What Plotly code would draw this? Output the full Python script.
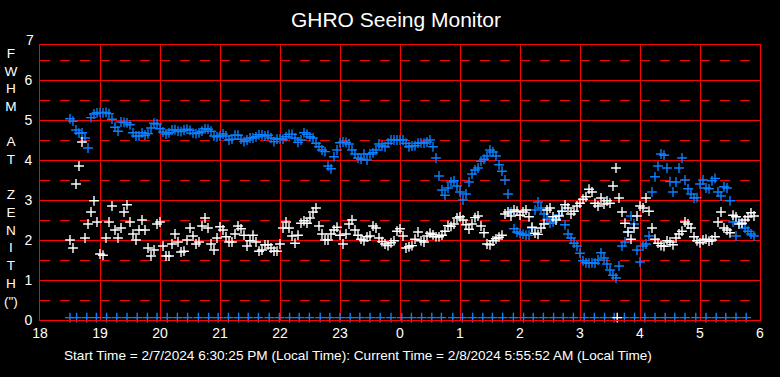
import plotly.graph_objects as go

# ---------------- data ----------------
t_start = 18.5   # first sample (hours, 18 = 6 PM)
t_step = 0.05    # sampling step in hours

blue_fwhm = [
    5.03, 4.97, 4.75, 4.67, 4.68, 4.55, 4.3, 5.06, 5.15, 5.18,
    5.19, 5.18, 5.19, 5.16, 5.02, 4.82, 4.72, 4.95, 4.94, 4.93, 4.88, 4.68, 4.6, 4.6, 4.68, 4.62, 4.66, 4.8, 4.92, 4.9,
    4.78, 4.7, 4.65, 4.68, 4.75, 4.76, 4.72, 4.71, 4.75, 4.77, 4.74, 4.67, 4.66, 4.68, 4.72, 4.78, 4.77, 4.72, 4.6, 4.58,
    4.6, 4.65, 4.6, 4.5, 4.52, 4.62, 4.62, 4.52, 4.46, 4.5, 4.55, 4.55, 4.58, 4.63, 4.63, 4.6, 4.62, 4.55, 4.46, 4.52,
    4.53, 4.52, 4.58, 4.64, 4.64, 4.55, 4.44, 4.5, 4.68, 4.64, 4.58, 4.55, 4.42, 4.33, 4.25, 4.21, 3.85, 3.78, 4.08, 4.25,
    4.43, 4.45, 4.44, 4.4, 4.25, 4.15, 4.05, 4.02, 4.15, 4.0, 4.15, 4.18, 4.25, 4.4, 4.35, 4.33, 4.42, 4.5, 4.5, 4.5,
    4.5, 4.5, 4.42, 4.33, 4.35, 4.36, 4.42, 4.43, 4.42, 4.45, 4.5, 4.33, 4.05, 3.6, 3.25, 3.12, 3.3, 3.45, 3.48, 3.35,
    3.2, 3.0, 3.15, 3.45, 3.65, 3.75, 3.8, 3.97, 4.02, 4.1, 4.25, 4.2, 4.1, 3.88, 3.72, 3.5, 3.15, 2.7, 2.28, 2.2,
    2.17, 2.14, 2.12, 2.12, 2.3, 2.75, 2.95, 2.8, 2.65, 2.52, 2.42, 2.45, 2.53, 2.62, 2.72, 2.38, 2.15, 2.05, 1.92, 1.85,
    1.67, 1.48, 1.43, 1.42, 1.43, 1.42, 1.5, 1.68, 1.55, 1.4, 1.25, 1.12, 1.05, 1.35, 1.85, 1.95, 2.2, 2.6, 2.4, 1.75,
    1.45, 1.85, 1.9, 2.1, 3.2, 3.58, 3.85, 4.15, 4.12, 3.8, 3.46, 3.2, 3.45, 3.8, 4.05, 3.5, 3.28, 3.15, 3.05, 3.06,
    3.4, 3.5, 3.3, 3.28, 3.48, 3.54, 3.2, 3.1, 3.33, 3.3, 2.98, 2.45, 2.1, 2.45, 2.4, 2.3, 2.22, 2.15, 2.1,
]

white_fwhm = [
    2.0, 1.8, 3.4, 3.85, 4.45, 2.05, 2.4, 2.7, 2.98, 2.45,
    1.65, 1.62, 2.05, 2.45, 2.85, 2.25, 2.05, 2.3, 2.7, 2.88, 2.45, 2.15, 2.0, 2.25, 2.5, 2.25, 1.8, 1.6, 1.75, 2.4,
    2.45, 1.85, 1.6, 1.6, 1.9, 2.15, 1.95, 1.7, 1.72, 2.0, 2.3, 2.1, 1.9, 1.95, 2.35, 2.55, 2.3, 1.9, 1.75, 2.05,
    2.33, 2.25, 2.08, 1.95, 1.95, 2.15, 2.35, 2.28, 2.12, 1.85, 1.98, 2.12, 1.95, 1.72, 1.75, 1.88, 1.88, 1.8, 1.72, 1.72,
    1.9, 2.3, 2.45, 2.3, 2.1, 1.92, 2.12, 2.42, 2.48, 2.42, 2.55, 2.7, 2.8, 2.35, 2.15, 2.0, 2.0, 2.15, 2.25, 2.32,
    2.12, 1.9, 2.15, 2.4, 2.5, 2.25, 2.12, 2.02, 1.98, 2.08, 2.1, 2.35, 2.3, 2.05, 1.96, 1.9, 1.86, 1.93, 1.98, 2.22,
    2.28, 2.1, 1.8, 1.83, 1.86, 2.02, 2.2, 1.98, 1.95, 2.1, 2.17, 2.13, 2.08, 2.08, 2.12, 2.22, 2.36, 2.34, 2.4, 2.55,
    2.58, 2.5, 2.38, 2.27, 2.4, 2.56, 2.6, 2.35, 2.18, 1.9, 1.88, 1.98, 2.03, 2.07, 2.12, 2.65, 2.7, 2.6, 2.75, 2.72,
    2.62, 2.7, 2.75, 2.58, 2.32, 2.17, 2.14, 2.3, 2.4, 2.75, 2.8, 2.58, 2.5, 2.6, 2.72, 2.88, 2.8, 2.65, 2.72, 2.85,
    2.92, 3.02, 3.08, 3.27, 3.2, 2.92, 2.85, 3.05, 2.9, 2.98, 2.92, 3.35, 3.8, 3.05, 2.7, 2.42, 2.2, 2.02, 2.3, 2.6,
    2.85, 2.8, 3.05, 2.72, 2.3, 2.02, 1.92, 1.86, 1.84, 1.98, 1.95, 1.88, 2.05, 2.15, 2.22, 2.45, 2.4, 2.3, 2.08, 1.98,
    1.93, 2.0, 2.02, 1.97, 2.0, 2.08, 2.45, 2.7, 2.3, 2.25, 2.18, 2.62, 2.58, 2.4, 2.42, 2.5, 2.58, 2.68, 2.6,
]

# status markers along the bottom of the chart
status_blue_x = [
    18.5, 18.61, 18.78, 18.94, 19.11, 19.28, 19.45, 19.62, 19.79, 19.95,
    20.12, 20.29, 20.46, 20.64, 20.81, 20.97, 21.14, 21.31, 21.47, 21.64, 21.82, 21.99,
    22.16, 22.32, 22.49, 22.67, 22.83, 23.0, 23.17, 23.33, 23.5, 23.67, 23.85,
    24.03, 24.19, 24.36, 24.53, 24.69, 24.88, 25.04, 25.21, 25.38, 25.54, 25.71, 25.89,
    26.06, 26.22, 26.39, 26.56, 26.72, 26.89, 27.07, 27.24, 27.41, 27.57, 27.74, 27.91,
    28.08, 28.25, 28.42, 28.58, 28.75, 28.93, 29.1, 29.27, 29.43, 29.6, 29.77,
]
status_blue_y = [0.06] * len(status_blue_x)
status_white_x = [27.62]
status_white_y = [0.06]

hour_ticks = [18, 19, 20, 21, 22, 23, 24, 25, 26, 27, 28, 29, 30]
hour_labels = ["18", "19", "20", "21", "22", "23", "0", "1", "2", "3", "4", "5", "6"]
y_ticks = [0, 1, 2, 3, 4, 5, 6]
y_half_ticks = [0.5, 1.5, 2.5, 3.5, 4.5, 5.5, 6.5]

title_text = "GHRO Seeing Monitor"
y_title_letters = ["F", "W", "H", "M", "", "A", "T", "", "Z", "E", "N", "I", "T", "H", "(\")"]
footer_text = ("Start Time = 2/7/2024 6:30:25 PM (Local Time): "
               "Current Time = 2/8/2024 5:55:52 AM (Local Time)")

# ---------------- figure ----------------
times_blue = [round(t_start + i * t_step, 3) for i in range(len(blue_fwhm))]
times_white = [round(t_start + i * t_step, 3) for i in range(len(white_fwhm))]

BLUE = "#0A80FF"
WHITE = "#FFFFFF"
RED = "#FF0000"
FONT = "Liberation Sans, Arial, sans-serif"


def plus_marker(color, size=7):
    return dict(symbol="cross-thin", size=size, color=color,
                line=dict(color=color, width=1.4))


fig = go.Figure()
fig.add_trace(go.Scatter(x=times_blue, y=blue_fwhm, mode="markers",
                         marker=plus_marker(BLUE), cliponaxis=False))
fig.add_trace(go.Scatter(x=times_white, y=white_fwhm, mode="markers",
                         marker=plus_marker(WHITE), cliponaxis=False))
fig.add_trace(go.Scatter(x=status_blue_x, y=status_blue_y, mode="markers",
                         marker=plus_marker(BLUE), cliponaxis=False))
fig.add_trace(go.Scatter(x=status_white_x, y=status_white_y, mode="markers",
                         marker=plus_marker(WHITE), cliponaxis=False))

fig.update_layout(
    width=780, height=377,
    paper_bgcolor="black", plot_bgcolor="black",
    margin=dict(l=40, r=20, t=45, b=57),
    showlegend=False,
    font=dict(family=FONT, color="white", size=14),
    title=dict(text=title_text, x=396 / 780, xref="container", xanchor="center",
               y=1 - 20 / 377, yref="container", yanchor="middle",
               font=dict(family=FONT, size=21, color="white")),
    xaxis=dict(range=[18, 30], tickvals=hour_ticks, ticktext=hour_labels,
               showgrid=True, gridcolor=RED, gridwidth=1,
               showline=True, linecolor=RED, linewidth=1, mirror=True,
               ticks="", zeroline=False, fixedrange=True,
               tickfont=dict(family=FONT, size=14, color="white")),
    yaxis=dict(range=[0, 6.875], tickvals=y_ticks,
               showgrid=True, gridcolor=RED, gridwidth=1,
               minor=dict(tickvals=y_half_ticks, showgrid=True, gridcolor=RED,
                          gridwidth=1, griddash="10px,10px"),
               showline=True, linecolor=RED, linewidth=1, mirror=True,
               ticks="", zeroline=False, fixedrange=True, ticklabelstandoff=4,
               tickfont=dict(family=FONT, size=14, color="white")),
)

annotations = [
    # "7" label above the top of the plotting box
    dict(text="7", xref="paper", yref="paper", x=0, y=7 / 6.875,
         xanchor="right", yanchor="middle", xshift=-4, showarrow=False,
         font=dict(family=FONT, size=14, color="white")),
    # vertical y-axis title
    dict(text="<br>".join(y_title_letters), xref="paper", yref="paper",
         x=(11 - 40) / 720, y=(320 - 177) / 275, xanchor="center", yanchor="middle",
         showarrow=False, align="center",
         font=dict(family=FONT, size=13.6, color="white")),
    # footer
    dict(text=footer_text, xref="paper", yref="paper",
         x=(62 - 40) / 720, y=(320 - 355) / 275, xanchor="left", yanchor="middle",
         showarrow=False, font=dict(family=FONT, size=13.6, color="white")),
]
fig.update_layout(annotations=annotations)

fig.write_html("out.html",
               config={"displayModeBar": False},
               post_script="document.body.style.margin='0';document.body.style.overflow='hidden';")
